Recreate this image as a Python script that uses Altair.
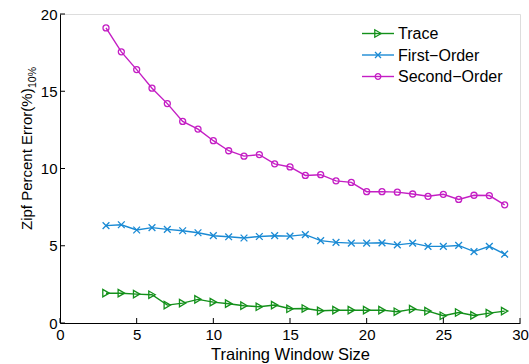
import altair as alt
import pandas as pd

window = list(range(3, 30))
trace = [1.93, 1.93, 1.87, 1.83, 1.16, 1.29, 1.53, 1.35, 1.25, 1.12, 1.05, 1.16, 0.92, 0.94,
         0.79, 0.83, 0.83, 0.83, 0.83, 0.73, 0.90, 0.77, 0.47, 0.68, 0.49, 0.64, 0.77]
first_order = [6.30, 6.36, 6.02, 6.17, 6.06, 5.97, 5.84, 5.65, 5.58, 5.50, 5.60, 5.65, 5.62, 5.72,
               5.33, 5.22, 5.17, 5.17, 5.19, 5.06, 5.17, 4.96, 4.96, 5.02, 4.62, 4.96, 4.46]
second_order = [19.1, 17.55, 16.4, 15.2, 14.2, 13.05, 12.55, 11.8, 11.15, 10.8, 10.9, 10.3, 10.1,
                9.55, 9.6, 9.2, 9.1, 8.5, 8.5, 8.47, 8.35, 8.2, 8.33, 8.0, 8.27, 8.25, 7.65]

series_names = ["Trace", "First\u2212Order", "Second\u2212Order"]
colors = ["#13901a", "#1a8ad4", "#c41ec4"]
shapes = ["triangle-right", "M-1,-1L1,1M-1,1L1,-1", "circle"]
sizes = [55, 36, 32]
x_ticks = [0, 5, 10, 15, 20, 25, 30]
y_ticks = [0, 5, 10, 15, 20]

rows = []
for name, vals in zip(series_names, [trace, first_order, second_order]):
    for w, v in zip(window, vals):
        rows.append({"window": w, "error": v, "series": name})
df = pd.DataFrame(rows)

W, H = 460, 309
FONT = "Liberation Sans"

xscale = alt.Scale(domain=[0, 30], nice=False, zero=False)
yscale = alt.Scale(domain=[0, 20], nice=False, zero=False)
cscale = alt.Scale(domain=series_names, range=colors)
sscale = alt.Scale(domain=series_names, range=shapes)
zscale = alt.Scale(domain=series_names, range=sizes)

base = alt.Chart(df).encode(
    x=alt.X("window:Q", scale=xscale,
            axis=alt.Axis(values=x_ticks, title="Training Window Size", ticks=False, grid=False,
                          labelFontSize=15, titleFontSize=16.5, titleFontWeight=400,
                          labelPadding=4, titlePadding=4, domainColor="#000000",
                          labelColor="#000000", titleColor="#000000", labelFont=FONT, titleFont=FONT,
                          labelFlush=False)),
    y=alt.Y("error:Q", scale=yscale,
            axis=alt.Axis(values=y_ticks, title=None, ticks=False, grid=False,
                          labelFontSize=15, labelPadding=3, domainColor="#000000",
                          labelColor="#000000", labelFont=FONT, labelFlush=False)),
    color=alt.Color("series:N", scale=cscale, legend=None),
)

lines = base.mark_line(strokeWidth=1.4)
points = base.mark_point(filled=False, strokeWidth=1.3, opacity=1).encode(
    shape=alt.Shape("series:N", scale=sscale, legend=None),
    size=alt.Size("series:N", scale=zscale, legend=None),
)

tick_df_x = pd.DataFrame({"t": x_ticks})
tick_df_y = pd.DataFrame({"t": y_ticks})
xt = alt.Chart(tick_df_x).mark_rule(color="#000000", strokeWidth=1).encode(
    x=alt.X("t:Q", scale=xscale), y=alt.value(H), y2=alt.value(H - 5))
yt = alt.Chart(tick_df_y).mark_rule(color="#000000", strokeWidth=1).encode(
    y=alt.Y("t:Q", scale=yscale), x=alt.value(0), x2=alt.value(5))

# y-axis title with subscript
ytitle_df = pd.DataFrame({"a": [0]})
ytitle = alt.Chart(ytitle_df).mark_text(
    angle=270, align="left", baseline="alphabetic", fontSize=15, font=FONT, color="#000000"
).encode(x=alt.value(-28), y=alt.value(216), text=alt.value("Zipf Percent Error(%)"))
ysub = alt.Chart(ytitle_df).mark_text(
    angle=270, align="left", baseline="alphabetic", fontSize=10.5, font=FONT, color="#000000"
).encode(x=alt.value(-24), y=alt.value(74), text=alt.value("10%"))

# legend
legend_layers = []
row_y = [19.5, 41, 62.5]
for name, col, shp, sz, ry in zip(series_names, colors, shapes, sizes, row_y):
    ldf = pd.DataFrame({"series": [name]})
    legend_layers.append(alt.Chart(ldf).mark_rule(color=col, strokeWidth=1.4).encode(
        x=alt.value(302), x2=alt.value(334), y=alt.value(ry)))
    legend_layers.append(alt.Chart(ldf).mark_point(
        filled=False, color=col, shape=shp, size=sz, strokeWidth=1.3, opacity=1).encode(
        x=alt.value(318), y=alt.value(ry)))
    legend_layers.append(alt.Chart(ldf).mark_text(
        align="left", baseline="middle", fontSize=16, font=FONT, color="#000000").encode(
        x=alt.value(338), y=alt.value(ry + 0.5), text="series:N"))

chart = alt.layer(lines, points, xt, yt, ytitle, ysub, *legend_layers).properties(
    width=W, height=H,
    autosize=alt.AutoSizeParams(type="none"),
    padding={"left": 60, "top": 14, "right": 9, "bottom": 41},
).configure_view(stroke=None).configure(background="white")

chart.save("out.html", embed_options={"renderer": "svg", "actions": False})
